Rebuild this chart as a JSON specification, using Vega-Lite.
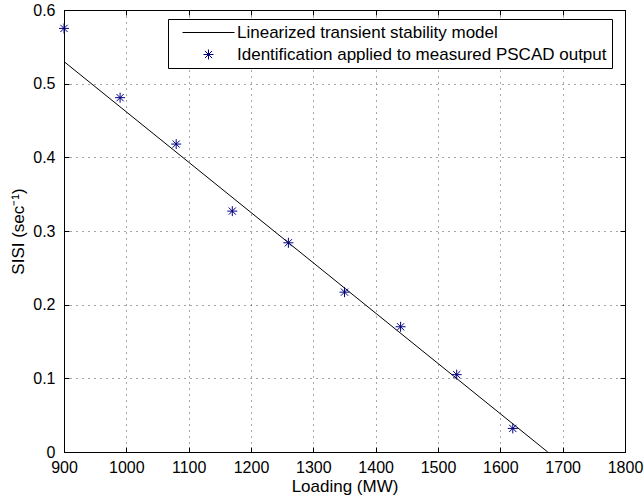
{
  "$schema": "https://vega.github.io/schema/vega-lite/v6.json",
  "autosize": "none",
  "width": 561,
  "height": 442,
  "padding": {"left": 64, "top": 10, "right": 19, "bottom": 50},
  "background": "#ffffff",
  "config": {
    "view": {"stroke": "#000000", "strokeWidth": 1},
    "font": "Liberation Sans",
    "axis": {
      "labelFont": "Liberation Sans",
      "titleFont": "Liberation Sans",
      "labelColor": "#000000",
      "titleColor": "#000000",
      "labelFontSize": 16,
      "titleFontSize": 17,
      "titleFontWeight": "normal",
      "tickColor": "#000000",
      "domainColor": "#000000",
      "gridColor": "#000000",
      "gridOpacity": 0.7,
      "gridDash": [1, 5],
      "gridWidth": 1
    }
  },
  "datasets": {
    "fit": [
      {"loading": 900, "sisi": 0.530},
      {"loading": 1676, "sisi": 0.0}
    ],
    "measured": [
      {"loading": 900, "sisi": 0.575, "series": "Identification applied to measured PSCAD output"},
      {"loading": 990, "sisi": 0.481, "series": "Identification applied to measured PSCAD output"},
      {"loading": 1080, "sisi": 0.418, "series": "Identification applied to measured PSCAD output"},
      {"loading": 1170, "sisi": 0.327, "series": "Identification applied to measured PSCAD output"},
      {"loading": 1260, "sisi": 0.284, "series": "Identification applied to measured PSCAD output"},
      {"loading": 1350, "sisi": 0.217, "series": "Identification applied to measured PSCAD output"},
      {"loading": 1440, "sisi": 0.170, "series": "Identification applied to measured PSCAD output"},
      {"loading": 1530, "sisi": 0.105, "series": "Identification applied to measured PSCAD output"},
      {"loading": 1620, "sisi": 0.032, "series": "Identification applied to measured PSCAD output"}
    ]
  },
  "layer": [
    {
      "data": {"name": "fit"},
      "mark": {"type": "line", "color": "#000000", "strokeWidth": 1},
      "encoding": {
        "x": {
          "field": "loading", "type": "quantitative",
          "scale": {"domain": [900, 1800], "nice": false, "zero": false},
          "axis": {
            "orient": "bottom",
            "values": [900, 1000, 1100, 1200, 1300, 1400, 1500, 1600, 1700, 1800],
            "format": "d",
            "grid": true,
            "tickSize": -5,
            "labelPadding": 12,
            "labelFlush": false,
            "labelOverlap": false,
            "title": "Loading (MW)",
            "titlePadding": 3
          }
        },
        "y": {
          "field": "sisi", "type": "quantitative",
          "scale": {"domain": [0, 0.6], "nice": false, "zero": false},
          "axis": {
            "orient": "left",
            "values": [0, 0.1, 0.2, 0.3, 0.4, 0.5, 0.6],
            "format": "~f",
            "grid": true,
            "tickSize": -5,
            "labelPadding": 14,
            "labelFlush": false,
            "labelOverlap": false,
            "title": "SISI (sec⁻¹)",
            "titlePadding": 5
          }
        }
      }
    },
    {
      "data": {"name": "measured"},
      "mark": {"type": "point", "filled": false, "strokeWidth": 1, "size": 100, "opacity": 1},
      "encoding": {
        "x": {
          "field": "loading", "type": "quantitative",
          "axis": {
            "orient": "top",
            "values": [900, 1000, 1100, 1200, 1300, 1400, 1500, 1600, 1700, 1800],
            "labels": false, "grid": false, "tickSize": -5, "title": null
          }
        },
        "y": {
          "field": "sisi", "type": "quantitative",
          "axis": {
            "orient": "right",
            "values": [0, 0.1, 0.2, 0.3, 0.4, 0.5, 0.6],
            "labels": false, "grid": false, "tickSize": -5, "title": null
          }
        },
        "color": {
          "field": "series", "type": "nominal",
          "scale": {
            "domain": ["Linearized transient stability model", "Identification applied to measured PSCAD output"],
            "range": ["#000000", "#000080"]
          },
          "legend": {
            "orient": "none", "legendX": 104, "legendY": 9, "title": null,
            "strokeColor": "#000000", "fillColor": "#ffffff", "padding": 5,
            "labelFont": "Liberation Sans", "labelFontSize": 17, "labelColor": "#000000",
            "symbolSize": 100, "symbolOffset": 27, "labelOffset": 20, "rowPadding": 4,
            "symbolStrokeWidth": 1, "symbolFillColor": "transparent", "labelLimit": 0
          }
        },
        "shape": {
          "field": "series", "type": "nominal",
          "scale": {
            "domain": ["Linearized transient stability model", "Identification applied to measured PSCAD output"],
            "range": ["M-5.2,0L5.2,0", "M-1,0L1,0M0,-1L0,1M-0.72,-0.72L0.72,0.72M-0.72,0.72L0.72,-0.72"]
          },
          "legend": {
            "orient": "none", "legendX": 104, "legendY": 9, "title": null,
            "strokeColor": "#000000", "fillColor": "#ffffff", "padding": 5,
            "labelFont": "Liberation Sans", "labelFontSize": 17, "labelColor": "#000000",
            "symbolSize": 100, "symbolOffset": 27, "labelOffset": 20, "rowPadding": 4,
            "symbolStrokeWidth": 1, "symbolFillColor": "transparent", "labelLimit": 0
          }
        }
      }
    }
  ],
  "resolve": {"axis": {"x": "independent", "y": "independent"}}
}
